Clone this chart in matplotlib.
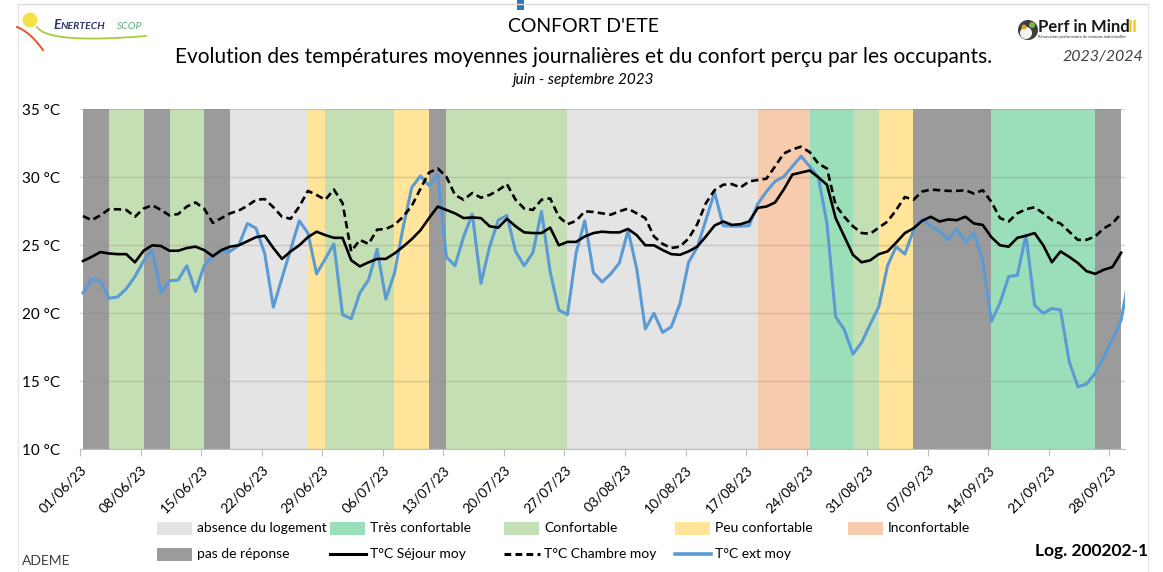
import numpy as np
import matplotlib
matplotlib.use("Agg")
import matplotlib.pyplot as plt
from matplotlib.patches import Rectangle, Circle

plt.rcParams["font.family"] = ["Lato", "DejaVu Sans"]

# ---- data -------------------------------------------------------------
tick_labels = ["01/06/23", "08/06/23", "15/06/23", "22/06/23", "29/06/23",
               "06/07/23", "13/07/23", "20/07/23", "27/07/23", "03/08/23",
               "10/08/23", "17/08/23", "24/08/23", "31/08/23", "07/09/23",
               "14/09/23", "21/09/23", "28/09/23"]

# comfort felt by the occupants, as consecutive runs of days from 01/06
comfort_codes = ["nr", "c", "nr", "c", "nr", "abs", "pc", "c", "pc", "nr",
                 "c", "abs", "inc", "tc", "c", "pc", "nr", "tc", "nr"]
comfort_days = [3, 4, 3, 4, 3, 9, 2, 8, 4, 2, 14, 22, 6, 5, 3, 4, 9, 12, 3]

sejour = [23.85, 24.15, 24.5, 24.4, 24.35, 24.35, 23.75, 24.6, 25.0, 24.95,
          24.6, 24.6, 24.8, 24.9, 24.65, 24.2, 24.65, 24.9, 25.0, 25.3,
          25.6, 25.7, 24.8, 24.0, 24.55, 25.0, 25.6, 26.0, 25.75, 25.55,
          25.55, 23.9, 23.45, 23.75, 24.0, 24.0, 24.4, 24.9, 25.45, 26.1,
          27.0, 27.85, 27.6, 27.35, 27.0, 27.05, 27.0, 26.4, 26.3, 26.95,
          26.4, 25.95, 25.9, 25.9, 26.3, 25.0, 25.25, 25.25, 25.65, 25.9,
          26.0, 25.95, 25.95, 26.2, 25.75, 25.0, 25.0, 24.65, 24.35, 24.3,
          24.55, 24.9, 25.65, 26.45, 26.75, 26.5, 26.55, 26.75, 27.75, 27.85,
          28.15, 29.1, 30.2, 30.35, 30.5, 30.0, 29.45, 27.0, 25.65, 24.3,
          23.75, 23.9, 24.35, 24.55, 25.2, 25.9, 26.25, 26.8, 27.1, 26.75,
          26.9, 26.85, 27.1, 26.6, 26.5, 25.6, 25.0, 24.9, 25.55, 25.7,
          25.9, 25.0, 23.75, 24.55, 24.15, 23.7, 23.1, 22.9, 23.2, 23.4,
          24.45]

chambre = [27.15, 26.85, 27.2, 27.65, 27.65, 27.6, 27.1, 27.7, 27.95, 27.6,
           27.2, 27.3, 27.85, 28.15, 27.7, 26.65, 27.0, 27.35, 27.55, 27.9,
           28.35, 28.4, 27.8, 27.1, 26.95, 27.85, 29.0, 28.7, 28.35, 29.1,
           28.1, 24.55, 25.4, 25.1, 26.15, 26.2, 26.5, 27.1, 27.9, 29.15,
           30.35, 30.65, 30.05, 28.7, 28.35, 28.85, 28.5, 28.7, 29.05, 29.5,
           28.35, 27.7, 27.6, 28.35, 28.45, 27.1, 26.55, 26.8, 27.5, 27.45,
           27.35, 27.25, 27.5, 27.7, 27.35, 27.0, 25.65, 25.1, 24.8, 24.9,
           25.5, 26.55, 28.1, 29.05, 29.45, 29.5, 29.25, 29.7, 29.8, 29.9,
           30.8, 31.75, 32.05, 32.25, 31.85, 31.0, 30.65, 27.95, 27.1, 26.4,
           25.9, 25.85, 26.3, 26.75, 27.6, 28.55, 28.35, 28.95, 29.1, 29.05,
           29.0, 29.0, 29.05, 28.8, 29.05, 28.2, 27.0, 26.75, 27.35, 27.65,
           27.8, 27.35, 26.85, 26.6, 26.0, 25.4, 25.4, 25.65, 26.25, 26.6,
           27.35]

ext = [21.5, 22.5, 22.4, 21.1, 21.2, 21.8, 22.7, 23.85, 24.65, 21.5,
       22.4, 22.45, 23.5, 21.6, 23.5, 24.2, 24.6, 24.55, 25.0, 26.6,
       26.25, 24.4, 20.45, 22.6, 24.7, 26.8, 25.9, 22.9, 24.0, 25.1,
       19.9, 19.6, 21.5, 22.45, 24.7, 21.05, 22.95, 26.3, 29.25, 30.1,
       29.4, 30.2, 24.15, 23.5, 25.65, 27.3, 22.2, 24.9, 26.85, 27.2,
       24.55, 23.5, 24.45, 27.5, 23.05, 20.25, 19.9, 24.45, 26.8, 23.0,
       22.3, 22.9, 23.7, 26.1, 23.3, 18.85, 20.0, 18.6, 19.0, 20.7,
       23.75, 24.85, 26.85, 28.9, 26.45, 26.4, 26.4, 26.45, 28.05, 28.95,
       29.7, 30.05, 30.8, 31.55, 30.8, 30.0, 26.6, 19.75, 18.8, 17.0,
       17.85, 19.2, 20.5, 23.5, 24.9, 24.35, 26.1, 26.95, 26.4, 26.05,
       25.4, 26.2, 25.25, 25.9, 23.9, 19.4, 20.75, 22.7, 22.8, 25.75,
       20.6, 20.0, 20.35, 20.25, 16.45, 14.6, 14.8, 15.6, 16.8, 18.1,
       19.5, 23.0]

comfort_names = {"abs": "absence du logement", "tc": "Très confortable",
                 "c": "Confortable", "pc": "Peu confortable",
                 "inc": "Inconfortable", "nr": "pas de réponse"}
comfort_colors = {"abs": "#e4e4e4", "tc": "#9bdeba", "c": "#c5dfb4",
                  "pc": "#ffe499", "inc": "#f7cbad", "nr": "#9b9b9b"}

# ---- figure -----------------------------------------------------------
W, H = 1163, 572
fig = plt.figure(figsize=(W / 100, H / 100), dpi=100)

# overlay in pixel units for frame, logos and legend
deco = fig.add_axes([0, 0, 1, 1], zorder=0)
deco.set_xlim(0, W)
deco.set_ylim(H, 0)
deco.axis("off")

ax = fig.add_axes([80 / W, 1 - 449.3 / H, 1045 / W, 340 / H], zorder=1)

day_codes = np.repeat(comfort_codes, comfort_days)
days = np.arange(len(day_codes))
ax.bar(days, 25, bottom=10, width=1.0, align="edge",
       color=[comfort_colors[c] for c in day_codes], linewidth=0, zorder=1)

ax.plot(np.arange(len(sejour)), sejour, color="black", lw=1.9, zorder=4,
        solid_joinstyle="round")
ax.plot(np.arange(len(chambre)), chambre, color="black", lw=1.9, zorder=4,
        linestyle=(0, (2.8, 1.6)))
ax.plot(np.arange(len(ext)), ext, color="#5b9bd5", lw=2.2, zorder=3,
        solid_joinstyle="round")

ax.set_xlim(-0.31, 120.45)
ax.set_ylim(10, 35)
ax.set_yticks(range(10, 36, 5))
ax.set_yticklabels([f"{v} °C" for v in range(10, 36, 5)], fontsize=11)
ax.yaxis.grid(True, color="#8c8c8c", alpha=0.35, lw=1.0, zorder=2)
ax.set_axisbelow(False)

ax.set_xticks(np.arange(len(tick_labels)) * 7 - 0.35)
ax.set_xticklabels(tick_labels, rotation=45, ha="right", va="top",
                   rotation_mode="anchor", fontsize=10)
ax.tick_params(axis="y", length=0, pad=14)
ax.tick_params(axis="x", length=5, color="#bfbfbf", pad=5)
for s in ["left", "right", "top"]:
    ax.spines[s].set_visible(False)
ax.spines["bottom"].set_color("#bfbfbf")
ax.spines["bottom"].set_zorder(5)
ax.patch.set_alpha(0)

# ---- titles -----------------------------------------------------------
deco.text(583, 27, "CONFORT D'ETE", ha="center", va="center", fontsize=14)
deco.text(584, 57,
          "Evolution des températures moyennes journalières et du confort "
          "perçu par les occupants.", ha="center", va="center", fontsize=15)
deco.text(583, 80, "juin - septembre 2023", ha="center", va="center",
          fontsize=11, style="italic")
deco.text(1103, 57, "2023/2024", ha="center", va="center", fontsize=11.5,
          style="italic", color="#404040")

# frame and small mark at the top
deco.plot([18, 1148], [4, 4], color="#d9d9d9", lw=1)
deco.plot([18, 18], [4, H], color="#e6e6e6", lw=1)
deco.plot([1148, 1148], [4, H], color="#e6e6e6", lw=1)
deco.add_patch(Rectangle((517, 0), 7, 10, color="#2e75b6", lw=0))


def bezier(p0, p1, p2, n=30):
    t = np.linspace(0, 1, n)[:, None]
    pts = (1 - t) ** 2 * np.array(p0) + 2 * (1 - t) * t * np.array(p1) \
        + t ** 2 * np.array(p2)
    return pts[:, 0], pts[:, 1]


# Enertech logo
deco.add_patch(Circle((30, 20), 7.5, color="#f7e04a", lw=0))
deco.plot(*bezier((17, 27), (30, 32), (43, 50)), color="#e8552b", lw=1.4)
deco.plot(*bezier((37, 27), (48, 44), (146, 36)), color="#a6ce39", lw=1.3)
deco.text(53, 29, "E", fontsize=10, weight="bold", style="italic",
          color="#29356b", va="baseline")
deco.text(61, 29, "NERTECH", fontsize=7.5, weight="bold", style="italic",
          color="#29356b", va="baseline")
deco.text(117, 29, "SCOP", fontsize=7.5, style="italic", color="#5fae7e",
          va="baseline")

# Perf in Mind logo
deco.add_patch(Circle((1028, 30), 10, color="#3d3d3d", lw=0))
deco.add_patch(Circle((1026, 33), 6, color="#f5f5f0", lw=0))
deco.add_patch(Circle((1032, 25), 3, color="#7cb342", lw=0))
deco.add_patch(Circle((1024, 27), 2.5, color="#d9a520", lw=0))
deco.text(1038, 27, "Perf in Mind", fontsize=12, weight="bold",
          va="center", color="#1a1a1a")
deco.text(1128, 27, "II", fontsize=12, weight="bold", va="center",
          color="#f2c318")
deco.text(1038, 37, "Rénovation performante de maisons individuelles",
          fontsize=3, va="center", color="#333333")

# ---- legend (two rows, equal-width columns) --------------------------
row1 = ["abs", "tc", "c", "pc", "inc"]
col_x = [157, 330, 504, 675, 848]
for code, x in zip(row1, col_x):
    deco.add_patch(Rectangle((x, 522), 35, 13, color=comfort_colors[code],
                             lw=0))
    deco.text(x + 40, 528, comfort_names[code], fontsize=10, va="center")

deco.add_patch(Rectangle((col_x[0], 548), 35, 13,
                         color=comfort_colors["nr"], lw=0))
deco.text(col_x[0] + 40, 554, comfort_names["nr"], fontsize=10, va="center")
line_items = [("T°C Séjour moy", dict(color="black", lw=2.2)),
              ("T°C Chambre moy", dict(color="black", lw=2.2,
                                       linestyle=(0, (2.2, 1.4)))),
              ("T°C ext moy", dict(color="#5b9bd5", lw=2.6))]
for (label, style), x in zip(line_items, col_x[1:]):
    deco.plot([x, x + 36], [554, 554], **style)
    deco.text(x + 40, 554, label, fontsize=10, va="center")

deco.text(22, 561, "ADEME", fontsize=10, va="center", color="#404040")
deco.text(1148, 551, "Log. 200202-1", fontsize=12.5, weight="bold",
          ha="right", va="center")

fig.savefig("out.png", dpi=100)
